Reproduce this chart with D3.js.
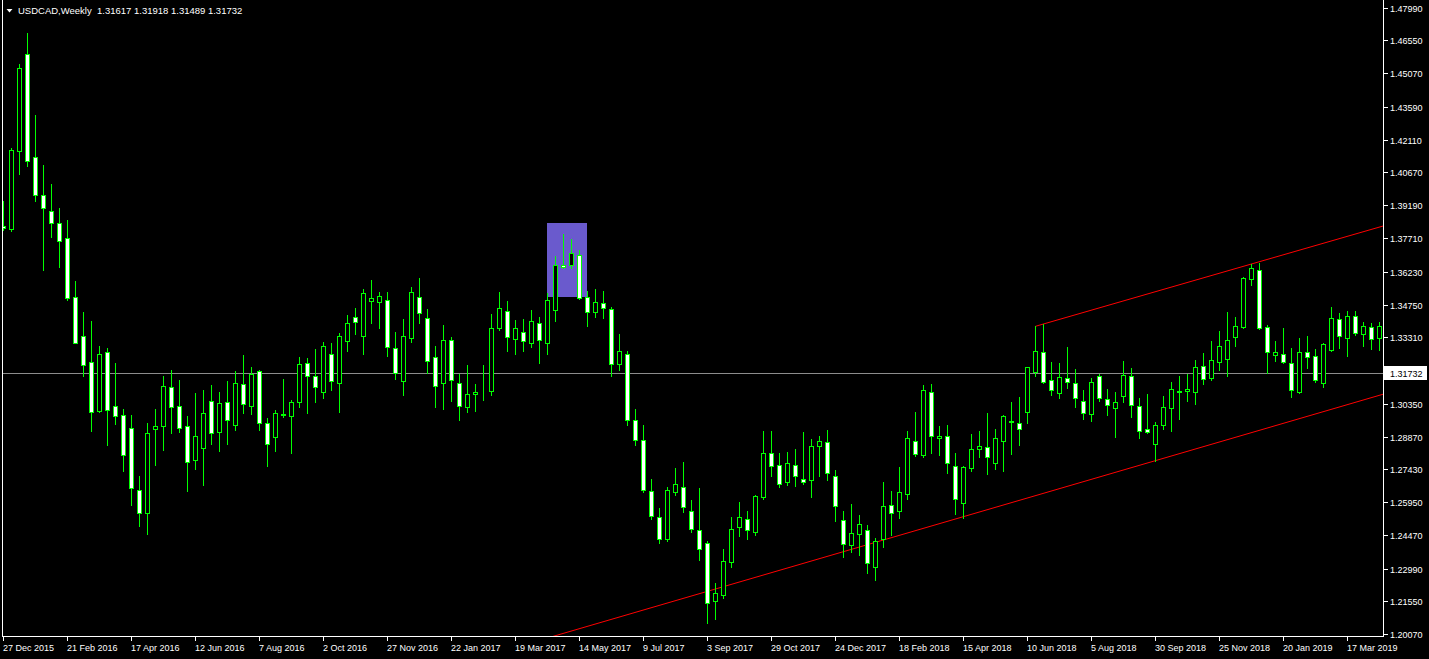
<!DOCTYPE html>
<html><head><meta charset="utf-8">
<script src="https://cdn.jsdelivr.net/npm/d3@7"></script>
<style>html,body{margin:0;padding:0;background:#000;overflow:hidden}</style>
</head><body>
<svg id="c" width="1429" height="659"></svg>
<script>
const symbolTitle = "USDCAD,Weekly";
const headerValues = ["1.31617", "1.31918", "1.31489", "1.31732"];
const startWeek = new Date(2015, 11, 27);

const open = [1.3827,1.3813,1.4163,1.4593,1.4133,1.3964,1.3892,1.3839,1.3772,1.3509,1.3335,1.3219,1.3003,1.3263,1.3023,1.2983,1.2925,1.2648,1.2548,1.2923,1.2936,1.3107,1.3023,1.2933,1.2784,1.2838,1.3045,1.2909,1.3040,1.2941,1.3121,1.3025,1.3179,1.2947,1.2887,1.2984,1.2981,1.3043,1.3214,1.3156,1.3088,1.3255,1.3128,1.3315,1.3420,1.3338,1.3494,1.3489,1.3495,1.3281,1.3137,1.3329,1.3509,1.3415,1.3241,1.3128,1.3317,1.3125,1.3021,1.3076,1.3090,1.3092,1.3373,1.3446,1.3324,1.3353,1.3304,1.3393,1.3306,1.3453,1.3651,1.3651,1.3696,1.3509,1.3442,1.3482,1.3455,1.3210,1.3255,1.2960,1.2871,1.2644,1.2528,1.2429,1.2639,1.2661,1.2554,1.2470,1.2412,1.2153,1.2180,1.2327,1.2483,1.2519,1.2461,1.2617,1.2813,1.2760,1.2684,1.2760,1.2697,1.2693,1.2844,1.2862,1.2710,1.2514,1.2403,1.2452,1.2470,1.2305,1.2429,1.2581,1.2554,1.2630,1.2867,1.2804,1.3085,1.2880,1.2889,1.2755,1.2590,1.2746,1.2831,1.2840,1.2768,1.2867,1.2953,1.2947,1.2996,1.3174,1.3263,1.3139,1.3081,1.3148,1.3125,1.3045,1.2987,1.3156,1.3054,1.3014,1.3067,1.3156,1.3023,1.2920,1.2853,1.2941,1.3014,1.3086,1.3090,1.3085,1.3201,1.3148,1.3219,1.3232,1.3330,1.3375,1.3589,1.3629,1.3375,1.3250,1.3255,1.3214,1.3085,1.3263,1.3246,1.3125,1.3272,1.3411,1.3326,1.3424,1.3344,1.3375,1.3326];
const high = [1.3938,1.4175,1.4549,1.4686,1.4322,1.4099,1.4014,1.3907,1.3854,1.3581,1.3443,1.3403,1.3292,1.3283,1.3216,1.3011,1.2984,1.2712,1.2948,1.3011,1.3158,1.3185,1.3140,1.2979,1.3082,1.3095,1.3118,1.3086,1.3135,1.3180,1.3251,1.3198,1.3185,1.2970,1.3006,1.3144,1.3051,1.3243,1.3238,1.3278,1.3309,1.3305,1.3350,1.3430,1.3461,1.3546,1.3586,1.3532,1.3532,1.3354,1.3412,1.3555,1.3595,1.3457,1.3292,1.3385,1.3332,1.3167,1.3207,1.3122,1.3207,1.3434,1.3532,1.3492,1.3408,1.3412,1.3452,1.3421,1.3528,1.3693,1.3791,1.3769,1.3720,1.3537,1.3546,1.3537,1.3466,1.3345,1.3269,1.3011,1.2939,1.2698,1.2569,1.2663,1.2747,1.2774,1.2605,1.2658,1.2422,1.2235,1.2386,1.2529,1.2596,1.2556,1.2627,1.2912,1.2912,1.2814,1.2819,1.2832,1.2908,1.2877,1.2890,1.2917,1.2739,1.2556,1.2587,1.2538,1.2493,1.2435,1.2685,1.2645,1.2752,1.2912,1.2997,1.3118,1.3122,1.2935,1.2939,1.2814,1.2756,1.2899,1.2912,1.2993,1.2921,1.2984,1.3042,1.3064,1.3199,1.3379,1.3390,1.3220,1.3216,1.3287,1.3189,1.3095,1.3149,1.3167,1.3100,1.3086,1.3225,1.3193,1.3060,1.3078,1.2953,1.3069,1.3131,1.3158,1.3167,1.3229,1.3260,1.3314,1.3358,1.3443,1.3421,1.3599,1.3657,1.3662,1.3385,1.3314,1.3372,1.3283,1.3327,1.3336,1.3278,1.3305,1.3466,1.3439,1.3448,1.3448,1.3399,1.3394,1.3399];
const low = [1.3809,1.3805,1.4059,1.4094,1.3938,1.3631,1.3778,1.3644,1.3497,1.3305,1.3158,1.2912,1.2999,1.2850,1.2944,1.2734,1.2582,1.2489,1.2453,1.2761,1.2828,1.2904,1.2908,1.2645,1.2743,1.2672,1.2855,1.2823,1.2855,1.2917,1.2993,1.2988,1.2917,1.2756,1.2823,1.2975,1.2814,1.3020,1.2993,1.3042,1.3060,1.3095,1.2997,1.3269,1.3345,1.3256,1.3394,1.3372,1.3247,1.3144,1.3073,1.3309,1.3394,1.3171,1.3020,1.3011,1.3046,1.2962,1.2997,1.3002,1.3051,1.3073,1.3363,1.3269,1.3256,1.3269,1.3287,1.3216,1.3256,1.3403,1.3639,1.3639,1.3500,1.3381,1.3421,1.3416,1.3158,1.3185,1.2939,1.2850,1.2640,1.2520,1.2413,1.2422,1.2627,1.2551,1.2462,1.2337,1.2056,1.2074,1.2168,1.2306,1.2444,1.2431,1.2449,1.2609,1.2712,1.2663,1.2672,1.2667,1.2676,1.2618,1.2712,1.2694,1.2511,1.2351,1.2373,1.2359,1.2279,1.2248,1.2395,1.2449,1.2524,1.2611,1.2802,1.2798,1.2816,1.2807,1.2727,1.2541,1.2523,1.2735,1.2798,1.2722,1.2744,1.2735,1.2811,1.2851,1.2947,1.3156,1.3125,1.3072,1.3058,1.3103,1.3018,1.2965,1.2956,1.3045,1.2983,1.2884,1.3040,1.2974,1.2880,1.2905,1.2777,1.2920,1.2911,1.2965,1.3045,1.3033,1.3121,1.3139,1.3183,1.3156,1.3290,1.3370,1.3562,1.3366,1.3170,1.3223,1.3214,1.3063,1.3081,1.3192,1.3130,1.3107,1.3268,1.3281,1.3245,1.3339,1.3290,1.3280,1.3274];
const close = [1.3818,1.4166,1.4530,1.4118,1.3966,1.3908,1.3841,1.3761,1.3507,1.3306,1.3208,1.2999,1.3255,1.3007,1.2981,1.2807,1.2660,1.2548,1.2902,1.2933,1.3112,1.3021,1.2927,1.2773,1.2889,1.2991,1.2905,1.3036,1.2963,1.3125,1.3034,1.3165,1.2950,1.2856,1.2991,1.2986,1.3040,1.3210,1.3159,1.3110,1.3290,1.3137,1.3335,1.3393,1.3397,1.3527,1.3504,1.3513,1.3288,1.3172,1.3335,1.3531,1.3440,1.3226,1.3115,1.3317,1.3141,1.3025,1.3076,1.3085,1.3092,1.3371,1.3460,1.3333,1.3371,1.3315,1.3402,1.3320,1.3495,1.3651,1.3643,1.3705,1.3504,1.3442,1.3486,1.3460,1.3210,1.3268,1.2960,1.2871,1.2648,1.2532,1.2429,1.2648,1.2675,1.2572,1.2474,1.2385,1.2144,1.2189,1.2331,1.2474,1.2528,1.2470,1.2621,1.2813,1.2755,1.2675,1.2768,1.2710,1.2684,1.2844,1.2867,1.2724,1.2577,1.2407,1.2456,1.2496,1.2322,1.2421,1.2577,1.2545,1.2639,1.2880,1.2809,1.3094,1.2889,1.2889,1.2768,1.2608,1.2751,1.2831,1.2844,1.2795,1.2880,1.2978,1.2955,1.2920,1.3197,1.3268,1.3130,1.3094,1.3152,1.3130,1.3058,1.2991,1.3130,1.3058,1.3027,1.3040,1.3161,1.3027,1.2911,1.2907,1.2941,1.3018,1.3098,1.3089,1.3098,1.3197,1.3143,1.3228,1.3290,1.3317,1.3379,1.3593,1.3638,1.3370,1.3263,1.3263,1.3219,1.3094,1.3263,1.3241,1.3139,1.3299,1.3415,1.3335,1.3424,1.3348,1.3379,1.3321,1.3379];

const xTickLabels = ["27 Dec 2015","21 Feb 2016","17 Apr 2016","12 Jun 2016","7 Aug 2016","2 Oct 2016","27 Nov 2016","22 Jan 2017","19 Mar 2017","14 May 2017","9 Jul 2017","3 Sep 2017","29 Oct 2017","24 Dec 2017","18 Feb 2018","15 Apr 2018","10 Jun 2018","5 Aug 2018","30 Sep 2018","25 Nov 2018","20 Jan 2019","17 Mar 2019"];
const yTickLabels = ["1.47990","1.46550","1.45070","1.43590","1.42110","1.40670","1.39190","1.37710","1.36230","1.34750","1.33310","1.30350","1.28870","1.27430","1.25950","1.24470","1.22990","1.21550","1.20070"];
const bidPrice = 1.31732;
const boxIndex = [68, 73];
const boxPrice = [1.3840, 1.3510];
const upperIndex = [129, 156], upperPrice = [1.33794, 1.36573];
const lowerIndex = [77, 148], lowerPrice = [1.20829, 1.28219];

const FONT = "'Liberation Sans', Arial, sans-serif";
const plotL = 2, plotR = 1383, plotB = 636;
const n = open.length;
const dates = d3.range(n).map(i => d3.timeWeek.offset(startWeek, i));
const fmt = d3.timeFormat("%-d %b %Y");

const x = d3.scaleLinear().domain([0, n - 1]).range([3.5, 3.5 + 8 * (n - 1)]);
const y = d3.scaleLinear().domain([1.20070, 1.47990]).range([634, 8]);
const py = v => Math.round(y(v)) + 0.5;

const svg = d3.select("#c");
svg.append("rect").attr("width", 1429).attr("height", 659).attr("fill", "#000");
const defs = svg.append("defs");
defs.append("clipPath").attr("id", "plot").append("rect")
  .attr("x", plotL + 1).attr("y", 0).attr("width", plotR - plotL - 1).attr("height", plotB);

const g = svg.append("g").attr("clip-path", "url(#plot)");

// rectangle object
g.append("rect")
  .attr("x", x(boxIndex[0]) - 0.5).attr("y", Math.round(y(boxPrice[0])))
  .attr("width", x(boxIndex[1]) - x(boxIndex[0]))
  .attr("height", Math.round(y(boxPrice[1])) - Math.round(y(boxPrice[0])))
  .attr("fill", "#6a5acd");

// bid line
g.append("line").attr("x1", plotL).attr("x2", plotR).attr("y1", py(bidPrice)).attr("y2", py(bidPrice))
  .attr("stroke", "#8c8c8c").attr("stroke-width", 1);

// trend lines
function lineAt(ix, pr, i) { return pr[0] + (pr[1] - pr[0]) * (i - ix[0]) / (ix[1] - ix[0]); }
const rightIdx = x.invert(plotR + 2);
g.append("line")
  .attr("x1", x(upperIndex[0])).attr("y1", y(upperPrice[0]))
  .attr("x2", x(rightIdx)).attr("y2", y(lineAt(upperIndex, upperPrice, rightIdx)))
  .attr("stroke", "#ff0000").attr("stroke-width", 1);
g.append("line")
  .attr("x1", x(0)).attr("y1", y(lineAt(lowerIndex, lowerPrice, 0)))
  .attr("x2", x(rightIdx)).attr("y2", y(lineAt(lowerIndex, lowerPrice, rightIdx)))
  .attr("stroke", "#ff0000").attr("stroke-width", 1);

// candles
const data = d3.range(n).map(i => ({i, o: open[i], h: high[i], l: low[i], c: close[i]}));
const cg = g.append("g").attr("shape-rendering", "crispEdges");
cg.selectAll("line.w").data(data).join("line").attr("class", "w")
  .attr("x1", d => x(d.i)).attr("x2", d => x(d.i))
  .attr("y1", d => py(d.h) - 0.5).attr("y2", d => py(d.l) + 0.5)
  .attr("stroke", "#00ff00").attr("stroke-width", 1);
cg.selectAll("rect.b").data(data).join("rect").attr("class", "b")
  .attr("x", d => x(d.i) - 2).attr("width", 4)
  .attr("y", d => py(Math.max(d.o, d.c)))
  .attr("height", d => Math.max(0, py(Math.min(d.o, d.c)) - py(Math.max(d.o, d.c))))
  .attr("fill", d => d.c >= d.o ? "#000" : "#fff")
  .attr("stroke", "#00ff00").attr("stroke-width", 1);

// frame
const fr = svg.append("g").attr("shape-rendering", "crispEdges").attr("stroke", "#fff").attr("stroke-width", 1);
fr.append("line").attr("x1", plotL + 0.5).attr("x2", plotL + 0.5).attr("y1", 0).attr("y2", plotB + 1);
fr.append("line").attr("x1", plotL).attr("x2", plotR + 1).attr("y1", plotB + 0.5).attr("y2", plotB + 0.5);
fr.append("line").attr("x1", plotR + 0.5).attr("x2", plotR + 0.5).attr("y1", 0).attr("y2", plotB + 1);

// y axis
const ya = svg.append("g");
yTickLabels.forEach(t => {
  const yy = py(+t);
  ya.append("line").attr("x1", plotR + 1).attr("x2", plotR + 5).attr("y1", yy).attr("y2", yy)
    .attr("stroke", "#fff").attr("shape-rendering", "crispEdges");
  ya.append("text").attr("x", 1390).attr("y", yy).attr("dy", "0.35em")
    .attr("fill", "#fff").attr("font-family", FONT).attr("font-size", 9).text(t);
});
// bid label
const by = py(bidPrice);
ya.append("rect").attr("x", plotR + 1).attr("y", by - 7.5).attr("width", 43).attr("height", 14).attr("fill", "#fff");
ya.append("text").attr("x", 1390).attr("y", by).attr("dy", "0.35em")
  .attr("fill", "#000").attr("font-family", FONT).attr("font-size", 9).text(d3.format(".5f")(bidPrice));

// x axis
const xa = svg.append("g");
xTickLabels.forEach(lbl => {
  const idx = dates.findIndex(d => fmt(d) === lbl);
  if (idx < 0) return;
  const xx = x(idx);
  xa.append("line").attr("x1", xx).attr("x2", xx).attr("y1", plotB + 1).attr("y2", plotB + 5)
    .attr("stroke", "#fff").attr("shape-rendering", "crispEdges");
  xa.append("text").attr("x", xx - 0.5).attr("y", 651)
    .attr("fill", "#fff").attr("font-family", FONT).attr("font-size", 9).text(lbl);
});

// header
svg.append("path").attr("d", "M6.5,9 L12.5,9 L9.5,12.5 Z").attr("fill", "#fff");
svg.append("text").attr("x", 18).attr("y", 14).attr("fill", "#fff")
  .attr("font-family", FONT).attr("font-size", 9.5).attr("xml:space", "preserve")
  .text(symbolTitle + "  " + headerValues.join(" "));
</script>
</body></html>
